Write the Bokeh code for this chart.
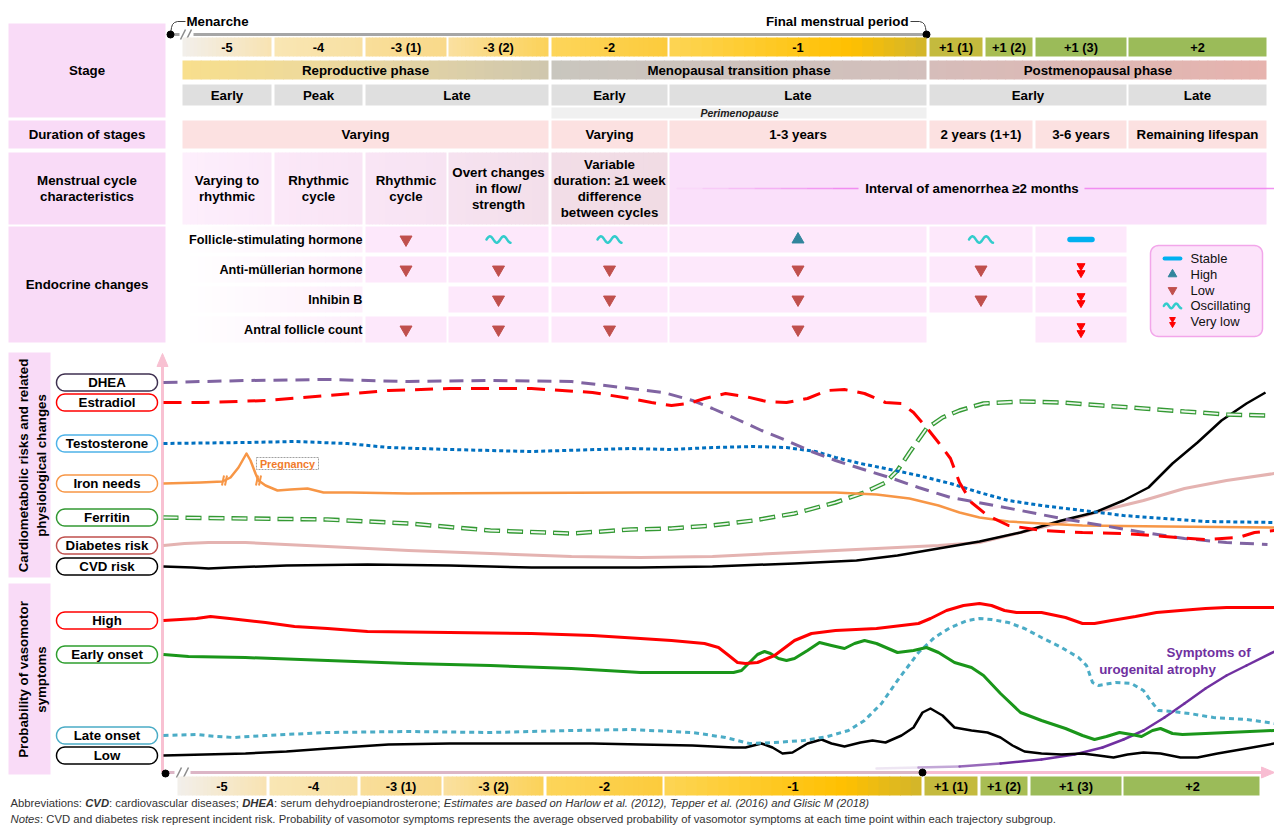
import numpy as np
from bokeh.plotting import figure
from bokeh.models import Range1d
from bokeh.core.properties import value
from bokeh.embed import file_html
from bokeh.resources import INLINE

FONT = "Liberation Sans"

# ---------------- stage timeline (schematic x positions of each stage) ----------------
stage_labels = ["-5", "-4", "-3 (1)", "-3 (2)", "-2", "-1", "+1 (1)", "+1 (2)", "+1 (3)", "+2"]
stage_start = [182, 274, 365, 448, 551, 669, 929, 985, 1035, 1128]
stage_end = [271, 362, 446, 548, 667, 926, 982, 1032, 1126, 1266]

phase_labels = ["Reproductive phase", "Menopausal transition phase", "Postmenopausal phase"]
phase_span = [(0, 3), (4, 5), (6, 9)]

substage_labels = ["Early", "Peak", "Late", "Early", "Late", "Early", "Late"]
substage_span = [(0, 0), (1, 1), (2, 3), (4, 4), (5, 5), (6, 8), (9, 9)]

duration_labels = ["Varying", "Varying", "1-3 years", "2 years (1+1)", "3-6 years", "Remaining lifespan"]
duration_span = [(0, 3), (4, 4), (5, 5), (6, 7), (8, 8), (9, 9)]

cycle_labels = ["Varying to\nrhythmic", "Rhythmic\ncycle", "Rhythmic\ncycle",
                "Overt changes\nin flow/\nstrength",
                "Variable\nduration: \u22651 week\ndifference\nbetween cycles",
                "Interval of amenorrhea \u22652 months"]
cycle_span = [(0, 0), (1, 1), (2, 2), (3, 3), (4, 4), (5, 9)]

hormones = ["Follicle-stimulating hormone", "Anti-m\u00fcllerian hormone", "Inhibin B", "Antral follicle count"]
hormone_col_span = [(2, 2), (3, 3), (4, 4), (5, 5), (6, 7), (8, 8)]
hormone_state = [
    ["low", "osc", "osc", "high", "osc", "stable"],
    ["low", "low", "low", "low", "low", "verylow"],
    [None, "low", "low", "low", "low", "verylow"],
    ["low", "low", "low", "low", None, "verylow"],
]
legend_states = ["stable", "high", "low", "osc", "verylow"]
legend_labels = ["Stable", "High", "Low", "Oscillating", "Very low"]

# ---------------- panel 1 curves (x on the timeline, y = drawn level) ----------------
dhea_x = [163, 245, 327, 408, 490, 571, 630, 663, 692, 712, 737, 761, 786, 811, 835, 860, 889, 918, 950, 983, 1020, 1061, 1102, 1143, 1184, 1226, 1267]
dhea_y = [382, 380, 379, 381, 380, 381, 388, 392, 400, 408, 419, 430, 440, 451, 460, 468, 477, 487, 497, 503, 510, 518, 525, 532, 538, 542, 544]
estradiol_x = [163, 204, 265, 327, 388, 449, 531, 592, 630, 651, 671, 688, 704, 725, 745, 766, 786, 807, 827, 844, 864, 885, 901, 913, 926, 938, 950, 959, 971, 987, 1008, 1041, 1082, 1123, 1164, 1205, 1238, 1254, 1274]
estradiol_y = [402, 402, 400, 395, 390, 388, 388, 392, 398, 402, 405, 403, 398, 393, 396, 401, 402, 398, 390, 389, 393, 402, 403, 412, 427, 442, 458, 482, 502, 515, 525, 530, 532, 533, 536, 539, 537, 532, 530]
testo_x = [163, 245, 294, 347, 388, 449, 531, 630, 671, 712, 753, 786, 815, 835, 860, 885, 918, 950, 979, 1008, 1041, 1082, 1123, 1164, 1205, 1274]
testo_y = [443, 442, 441, 443, 447, 449, 451, 448, 449, 447, 446, 447, 451, 457, 463, 468, 475, 483, 492, 500, 505, 510, 515, 518, 521, 522]
iron_x = [163, 200, 222, 230, 238, 246, 250, 255, 258, 265, 277, 290, 307, 323, 350, 408, 640, 753, 835, 876, 909, 938, 959, 979, 1008, 1041, 1082, 1164, 1274]
iron_y = [483, 482, 481, 477, 467, 453, 460, 473, 480, 485, 490, 489, 488, 492, 492, 493, 492, 492, 492, 494, 498, 505, 512, 517, 521, 523, 525, 526, 527]
iron_breaks_x = [224, 258]
ferritin_x = [163, 245, 327, 408, 490, 571, 630, 671, 712, 753, 794, 835, 864, 885, 897, 909, 926, 942, 959, 983, 1020, 1061, 1102, 1143, 1184, 1226, 1267]
ferritin_y = [517, 518, 519, 523, 530, 533, 529, 528, 525, 520, 513, 502, 492, 482, 470, 452, 428, 417, 410, 403, 401, 402, 405, 408, 411, 414, 415]
diabetes_x = [163, 184, 208, 245, 327, 408, 490, 571, 640, 712, 794, 876, 938, 979, 1020, 1061, 1102, 1143, 1184, 1226, 1274]
diabetes_y = [545, 543, 542, 542, 546, 550, 553, 556, 557, 556, 552, 548, 545, 542, 532, 522, 510, 500, 488, 480, 473]
cvd_x = [163, 192, 208, 229, 286, 367, 449, 531, 640, 712, 794, 856, 897, 938, 979, 1020, 1061, 1094, 1123, 1148, 1172, 1197, 1221, 1246, 1265]
cvd_y = [566, 567, 568, 567, 565, 564, 565, 567, 567, 566, 563, 560, 555, 548, 541, 532, 520, 512, 500, 487, 463, 442, 420, 403, 392]

# ---------------- panel 2 curves: vasomotor symptom trajectories ----------------
high_x = [163, 180, 196, 210, 229, 265, 294, 327, 367, 449, 531, 592, 640, 671, 704, 718, 727, 737, 745, 757, 774, 794, 811, 835, 876, 918, 930, 946, 963, 979, 991, 1004, 1016, 1041, 1065, 1082, 1094, 1111, 1135, 1156, 1180, 1205, 1226, 1274]
high_y = [620, 619, 618, 616, 618, 622, 626, 628, 631, 632, 633, 635, 638, 640, 643, 647, 654, 662, 663, 662, 655, 640, 633, 630, 628, 623, 618, 610, 605, 603, 605, 610, 612, 612, 617, 623, 623, 620, 616, 612, 610, 608, 607, 607]
early_x = [163, 188, 245, 327, 408, 490, 571, 640, 692, 733, 741, 749, 757, 764, 770, 778, 786, 794, 807, 819, 831, 844, 854, 864, 876, 897, 913, 926, 938, 954, 971, 983, 1000, 1020, 1041, 1065, 1082, 1094, 1106, 1119, 1131, 1141, 1152, 1160, 1172, 1182, 1205, 1274]
early_y = [654, 656, 657, 660, 663, 665, 668, 672, 672, 672, 670, 662, 654, 651, 653, 658, 660, 658, 650, 642, 645, 648, 643, 640, 643, 652, 650, 647, 652, 662, 667, 675, 693, 712, 720, 728, 735, 739, 736, 732, 734, 736, 730, 728, 733, 734, 733, 730]
late_x = [163, 196, 216, 233, 265, 327, 408, 490, 571, 630, 692, 725, 749, 774, 803, 827, 848, 864, 881, 897, 918, 934, 950, 967, 979, 991, 1008, 1024, 1041, 1061, 1078, 1086, 1092, 1098, 1115, 1131, 1143, 1150, 1158, 1172, 1189, 1213, 1246, 1274]
late_y = [735, 734, 736, 737, 735, 732, 731, 732, 730, 729, 732, 737, 743, 742, 740, 736, 730, 720, 703, 680, 652, 637, 627, 620, 618, 619, 622, 628, 637, 647, 657, 665, 682, 685, 682, 683, 690, 700, 710, 711, 713, 717, 719, 723]
low_x = [163, 204, 245, 286, 327, 388, 449, 531, 592, 640, 692, 733, 745, 761, 772, 782, 792, 807, 821, 831, 844, 860, 872, 885, 901, 913, 922, 930, 942, 954, 971, 987, 1000, 1012, 1024, 1041, 1061, 1082, 1098, 1113, 1127, 1143, 1160, 1180, 1197, 1217, 1246, 1274]
low_y = [755, 754, 753, 751, 748, 744, 743, 743, 743, 744, 745, 747, 747, 743, 747, 753, 752, 743, 739, 743, 746, 742, 740, 742, 735, 727, 712, 708, 715, 727, 730, 732, 737, 745, 751, 753, 754, 753, 755, 757, 754, 752, 753, 757, 757, 753, 748, 743]
uro_x = [876, 918, 959, 1000, 1041, 1074, 1102, 1123, 1143, 1164, 1184, 1205, 1226, 1246, 1274]
uro_y = [768, 767, 766, 763, 759, 754, 747, 739, 730, 717, 703, 688, 675, 665, 651]

# footnote texts
foot1 = [("Abbreviations: ", "normal"), ("CVD", "bold italic"), (": cardiovascular diseases; ", "normal"),
         ("DHEA", "bold italic"), (": serum dehydroepiandrosterone; ", "normal"),
         ("Estimates are based on Harlow et al. (2012), Tepper et al. (2016) and Glisic M (2018)", "italic")]
foot2 = [("Notes", "italic"), (": CVD and diabetes risk represent incident risk. Probability of vasomotor symptoms "
                                "represents the average observed probability of vasomotor symptoms at each time point "
                                "within each trajectory subgroup.", "normal")]

# ---------------- styles ----------------
stage_fill = [[(0, "#f2efeb"), (1, "#f8e3b2")], [(0, "#f9e6b4"), (1, "#f8e0a2")],
              [(0, "#f9de9a"), (1, "#f9d98a")], [(0, "#fae0a0"), (1, "#fbd259")],
              [(0, "#fdd55a"), (1, "#fccb3c")], [(0, "#fdd555"), (0.7, "#ffc000"), (1, "#d1b52c")],
              "#c4ba3e", "#a8bd53", "#9bbb59", "#9bbb59"]
phase_fill = [[(0, "#f8df8c"), (0.5, "#e9d7a2"), (1, "#cfc7ae")],
              [(0, "#c9c6be"), (1, "#d3bfbc")],
              [(0, "#d6bdba"), (1, "#e6b3ae")]]
cycle_fill = [[(0, "#fdeffc"), (1, "#fbe9f9")], [(0, "#fbe8f8"), (1, "#f9e5f5")],
              [(0, "#f9e5f5"), (1, "#f7e3f2")], [(0, "#f6e2f0"), (1, "#f3dfea")],
              [(0, "#f2dde7"), (1, "#f1dce4")], "#fae0fa"]
BOX = "#f9dbf7"

p = figure(width=1274, height=825, x_range=Range1d(0, 1274), y_range=Range1d(825, 0),
           output_backend="svg", toolbar_location=None, min_border=0,
           x_axis_location=None, y_axis_location=None)
p.outline_line_color = None
p.background_fill_color = "white"
p.border_fill_color = "white"
p.xgrid.visible = False
p.ygrid.visible = False


def hex2rgb(h):
    h = h.lstrip("#")
    return [int(h[i:i + 2], 16) for i in (0, 2, 4)]


def mix(stops, t):
    for (t0, c0), (t1, c1) in zip(stops[:-1], stops[1:]):
        if t <= t1:
            f = 0.0 if t1 == t0 else (t - t0) / (t1 - t0)
            a, b = hex2rgb(c0), hex2rgb(c1)
            return "#%02x%02x%02x" % tuple(int(round(a[k] + (b[k] - a[k]) * f)) for k in range(3))
    return stops[-1][1]


def band(x0, x1, y0, y1, fill, n=24):
    if isinstance(fill, str):
        p.quad(left=[x0], right=[x1], top=[y0], bottom=[y1], fill_color=fill, line_color=None)
        return
    e = np.linspace(x0, x1, n + 1)
    p.quad(left=e[:-1], right=np.minimum(e[1:] + 0.8, x1), top=[y0] * n, bottom=[y1] * n,
           fill_color=[mix(fill, (i + 0.5) / n) for i in range(n)], line_color=None)


def label(x, y, s, size=13.3, style="bold", color="#000000", align="center", angle=0.0, lh=16):
    lines = s.split("\n")
    n = len(lines)
    for i, ln in enumerate(lines):
        off = (i - (n - 1) / 2) * lh
        p.text(x=[x], y=[y + off], text=[ln], text_font=value(FONT), text_font_size=f"{size}px",
               text_font_style=style, text_color=color, text_align=align, text_baseline="middle", angle=angle)


def rrect(x0, x1, y0, y1, r):
    xs, ys = [], []
    for cx, cy, a0, a1 in [(x1 - r, y0 + r, -90, 0), (x1 - r, y1 - r, 0, 90),
                           (x0 + r, y1 - r, 90, 180), (x0 + r, y0 + r, 180, 270)]:
        a = np.radians(np.linspace(a0, a1, 9))
        xs += list(cx + r * np.cos(a))
        ys += list(cy + r * np.sin(a))
    return xs, ys


def wave(cx, cy, w, a, color, lw):
    t = np.linspace(0, 1, 40)
    p.line(cx - w / 2 + w * t, cy - a * np.sin(2 * np.pi * 1.75 * t), line_color=color,
           line_width=lw, line_cap="round")


def icon(state, cx, cy, s=1.0):
    if state == "low":
        p.scatter([cx], [cy], marker="inverted_triangle", size=12 * s, fill_color="#c0504d", line_color="#c0504d")
    elif state == "high":
        p.scatter([cx], [cy], marker="triangle", size=12 * s, fill_color="#31859c", line_color="#31859c")
    elif state == "osc":
        wave(cx, cy, 24 * s, 3.2 * s, "#33cccc", 2.5)
    elif state == "stable":
        p.line([cx - 11 * s, cx + 11 * s], [cy, cy], line_width=5.5 * s, line_color="#00b0f0", line_cap="round")
    elif state == "verylow":
        p.scatter([cx, cx], [cy - 3.5 * s, cy + 3.5 * s], marker="inverted_triangle", size=8 * s,
                  fill_color="#ff0000", line_color="#ff0000")


def span_x(sp, shift=0):
    return stage_start[sp[0]] + shift, stage_end[sp[1]] + shift


# ---------------- header: section label boxes ----------------
for txt, y0, y1 in [("Stage", 23, 117), ("Duration of stages", 120, 148),
                    ("Menstrual cycle\ncharacteristics", 152, 224), ("Endocrine changes", 226, 342)]:
    band(8, 165, y0, y1, BOX)
    label(86.5, (y0 + y1) / 2, txt)

# menarche / FMP line
p.line([170, 926], [34, 34], line_color="#a6a6a6", line_width=3)
p.quad(left=[179], right=[193], top=[30], bottom=[38], fill_color="white", line_color=None)
p.segment(x0=[180, 186], y0=[39, 39], x1=[185, 191], y1=[29, 29], line_color="#8c8c8c", line_width=1.5)
p.line([185, 177, 174, 172, 171, 170], [21, 21, 22, 24, 27, 34], line_color="#404040", line_width=1)
p.line([910, 919, 922, 924, 925, 926], [21, 21, 22, 24, 27, 34], line_color="#404040", line_width=1)
p.scatter([170, 926], [34, 34], size=7, fill_color="black", line_color="black")
label(186, 21, "Menarche", align="left")
label(908, 21, "Final menstrual period", align="right")

# stage row (top)
for i, lab in enumerate(stage_labels):
    band(stage_start[i], stage_end[i], 37, 56, stage_fill[i])
    label((stage_start[i] + stage_end[i]) / 2, 46.5, lab, size=12.8)

# phases
for lab, sp, fill in zip(phase_labels, phase_span, phase_fill):
    x0, x1 = span_x(sp)
    band(x0, x1, 60, 79, fill, n=40)
    label((x0 + x1) / 2, 70, lab)

# sub-stages
for lab, sp in zip(substage_labels, substage_span):
    x0, x1 = span_x(sp)
    band(x0, x1, 84, 105, "#dfdfdf")
    label((x0 + x1) / 2, 95, lab)

# perimenopause bar
band(stage_start[4], stage_end[5], 107, 118, "#f0f0f0")
label(739, 112.5, "Perimenopause", size=10.5, style="bold italic", color="#202020")

# durations
for lab, sp in zip(duration_labels, duration_span):
    x0, x1 = span_x(sp)
    band(x0, x1, 120, 148, "#fce1e1")
    label((x0 + x1) / 2, 134, lab)

# menstrual cycle characteristics
for lab, sp, fill in zip(cycle_labels, cycle_span, cycle_fill):
    x0, x1 = span_x(sp)
    band(x0, x1, 152, 224, fill)
ams = np.linspace(676, 858, 8)
p.multi_line(xs=[[ams[i], ams[i + 1]] for i in range(7)], ys=[[188, 188]] * 7,
             line_color="#ee7eee", line_width=1.5, line_alpha=list(np.linspace(0.08, 0.85, 7)))
p.line([1084, 1274], [188, 188], line_color="#ee7eee", line_width=1.5, line_alpha=0.85)
for lab, sp in zip(cycle_labels, cycle_span):
    x0, x1 = span_x(sp)
    label((x0 + x1) / 2 + (4 if sp[1] == 9 else 0), 188, lab)

# endocrine rows
row_top = [226, 256, 286, 316]
for r, hname in enumerate(hormones):
    y0 = row_top[r]
    band(182, 362, y0, y0 + 26, [(0, "#ffffff"), (1, "#fdeffb")])
    label(362, y0 + 13, hname, size=12.7, align="right")
    for c, sp in enumerate(hormone_col_span):
        st = hormone_state[r][c]
        if st is None:
            continue
        x0, x1 = span_x(sp)
        band(x0, x1, y0, y0 + 26, "#fde8fb")
        icon(st, (x0 + x1) / 2, y0 + 13)

# legend
lx, ly = rrect(1150, 1262, 245, 336, 8)
p.patch(lx, ly, fill_color="#fce3fa", line_color="#f2a6ea", line_width=1.5)
for k, (st, lab) in enumerate(zip(legend_states, legend_labels)):
    yy = 258 + k * 15.8
    icon(st, 1172, yy, s=0.72)
    label(1190, yy, lab, size=13, style="normal", align="left", color="#111111")

# ---------------- lower panels ----------------
band(8, 50, 352, 577, BOX)
band(8, 50, 583, 774, BOX)
label(23, 465, "Cardiometabolic risks and related", angle=np.pi / 2)
label(41, 465, "physiological changes", angle=np.pi / 2)
label(23, 679, "Probability of vasomotor", angle=np.pi / 2)
label(41, 679, "symptoms", angle=np.pi / 2)

# axes
p.line([162, 162], [772, 362], line_color="#f8c1d2", line_width=3)
p.patch([156.5, 162, 167.5], [366, 353, 366], fill_color="#f8c1d2", line_color="#f8c1d2")
p.line([165, 922], [772, 772], line_color="#dcb6c6", line_width=3)
p.line([922, 1262], [772, 772], line_color="#f8bdd2", line_width=3)
p.patch([1261, 1274, 1261], [766.5, 772, 777.5], fill_color="#f8bdd2", line_color="#f8bdd2")
p.quad(left=[174], right=[190], top=[768], bottom=[776], fill_color="white", line_color=None)
p.segment(x0=[176, 183], y0=[777, 777], x1=[181, 188], y1=[767, 767], line_color="#8c8c8c", line_width=1.5)

# urogenital atrophy (fades in)
n_uro = len(uro_x) - 1
p.multi_line(xs=[[uro_x[i], uro_x[i + 1]] for i in range(n_uro)], ys=[[uro_y[i], uro_y[i + 1]] for i in range(n_uro)],
             line_color="#7030a0", line_width=2.5, line_cap="round",
             line_alpha=[min(1.0, 0.12 + 0.3 * i) for i in range(n_uro)])

p.scatter([165, 922], [773, 772], size=7, fill_color="black", line_color="black")

# panel 1 curves
p.line(diabetes_x, diabetes_y, line_color="#e4b3b1", line_width=3, line_join="round")
p.line(cvd_x, cvd_y, line_color="black", line_width=2.5, line_join="round")
p.line(ferritin_x, ferritin_y, line_color="#339933", line_width=4.5, line_dash="16 7", line_dash_offset=1)
p.line(ferritin_x, ferritin_y, line_color="#eef7ee", line_width=1.8, line_dash="14 9")
p.line(iron_x, iron_y, line_color="#f79646", line_width=2.5, line_join="round")
for bx in iron_breaks_x:
    by = float(np.interp(bx, iron_x, iron_y))
    p.segment(x0=[bx - 2.5, bx + 0.5], y0=[by + 5, by + 5], x1=[bx - 0.5, bx + 2.5], y1=[by - 5, by - 5],
              line_color="#f79646", line_width=2)
p.line(testo_x, testo_y, line_color="#0070c0", line_width=3, line_dash="4 3")
p.line(dhea_x, dhea_y, line_color="#8064a2", line_width=3, line_dash="14 8")
p.line(estradiol_x, estradiol_y, line_color="#ff0000", line_width=3, line_dash="18 10")

# pregnancy tag
p.quad(left=[256], right=[318], top=[457], bottom=[469], fill_color="white", line_color="#a0a0a0",
       line_dash="2 1", line_width=1)
label(287, 463, "Pregnancy", size=10.8, color="#f07b2b")

# panel 2 curves
p.line(low_x, low_y, line_color="black", line_width=2.5, line_join="round")
p.line(late_x, late_y, line_color="#4bacc6", line_width=3, line_dash="5 4")
p.line(early_x, early_y, line_color="#1a961a", line_width=3, line_join="round")
p.line(high_x, high_y, line_color="#ff0000", line_width=3, line_join="round")
label(1208, 652, "Symptoms of", color="#7030a0")
label(1157, 669, "urogenital atrophy", color="#7030a0")

# pill labels at the start of each curve
pills = [("DHEA", dhea_y[0], "#3f3151"), ("Estradiol", estradiol_y[0], "#ff0000"),
         ("Testosterone", testo_y[0], "#4fb3e8"), ("Iron needs", iron_y[0], "#f79646"),
         ("Ferritin", ferritin_y[0], "#339933"), ("Diabetes risk", diabetes_y[0], "#c0504d"),
         ("CVD risk", cvd_y[0], "#000000"), ("High", high_y[0], "#ff0000"),
         ("Early onset", early_y[0], "#2e9e2e"), ("Late onset", late_y[0], "#4bacc6"),
         ("Low", low_y[0], "#000000")]
pxs, pys = [], []
for name, yy, col in pills:
    a, b = rrect(56, 157, yy - 8.5, yy + 8.5, 8.5)
    pxs.append(a)
    pys.append(b)
p.patches(pxs, pys, fill_color="white", line_color=[c for _, _, c in pills], line_width=1.5)
for name, yy, col in pills:
    label(106.5, yy, name)

# bottom stage row
for i, lab in enumerate(stage_labels):
    band(stage_start[i] - 5, stage_end[i] - 7 if i == 9 else stage_end[i] - 5, 776, 795, stage_fill[i])
    label((stage_start[i] + stage_end[i]) / 2 - 5, 785.5, lab, size=12.8)

# ---------------- footnotes ----------------
REG = dict(zip(" !(),-.:;0123456789", [278, 278, 333, 333, 278, 333, 278, 278, 278] + [556] * 10))
REG.update(dict(zip("ABCDEFGHIJKLMNOPQRSTUVWXYZ",
                    [667, 667, 722, 722, 667, 611, 778, 722, 278, 500, 667, 556, 833, 722, 778, 667, 778, 722, 667,
                     611, 722, 667, 944, 667, 667, 611])))
REG.update(dict(zip("abcdefghijklmnopqrstuvwxyz",
                    [556, 556, 500, 556, 556, 278, 556, 556, 222, 222, 500, 222, 833, 556, 556, 556, 556, 333, 500,
                     278, 556, 500, 722, 500, 500, 500])))
BLD = {"C": 722, "V": 667, "D": 722, "H": 722, "E": 667, "A": 722}


def em(s, style):
    tab = BLD if "bold" in style else REG
    return sum(tab.get(ch, REG.get(ch, 556)) for ch in s) / 1000.0


for segs, y, target in [(foot1, 802, 860), (foot2, 818, 1047)]:
    total = sum(em(s, st) for s, st in segs)
    fs = target / total
    x = 10.0
    for s, st in segs:
        p.text(x=[x], y=[y], text=[s], text_font=value(FONT), text_font_size=f"{fs:.2f}px",
               text_font_style=st, text_color="#333333", text_align="left", text_baseline="middle")
        x += em(s, st) * fs

open("out.html", "w").write(file_html(p, INLINE))
